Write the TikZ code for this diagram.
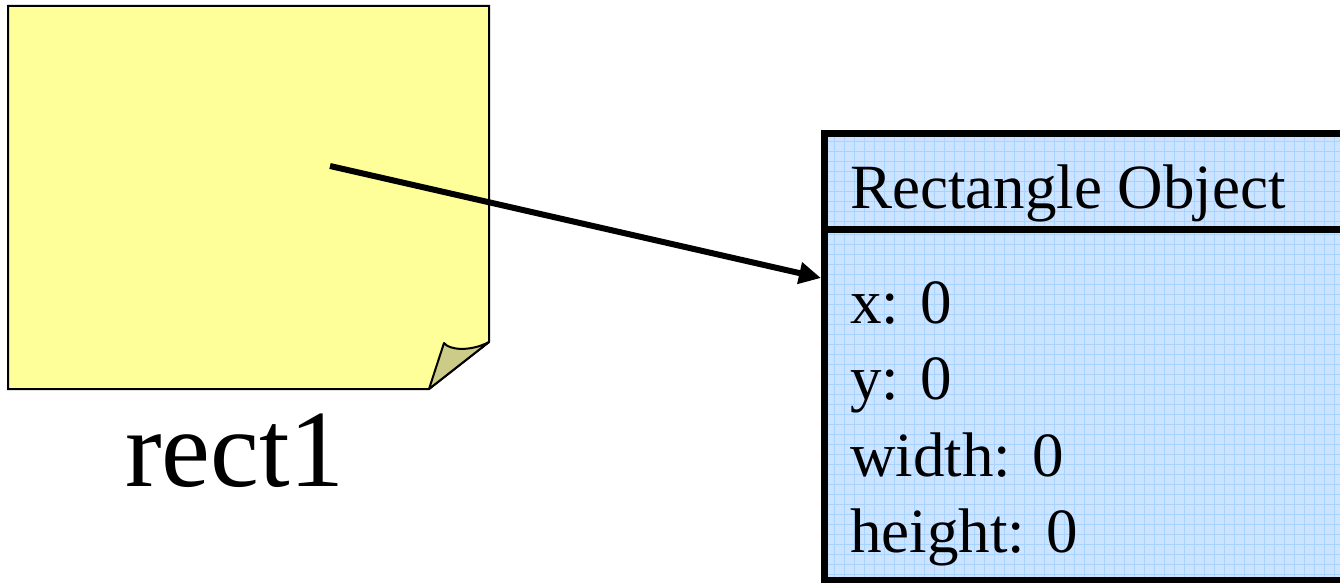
\documentclass[tikz,border=0pt]{standalone}
\usepackage{fontspec}
\setmainfont{Liberation Serif}
\usetikzlibrary{arrows.meta}
\definecolor{notefill}{HTML}{FFFF99}
\definecolor{noteflap}{HTML}{CCCC88}
\definecolor{objfill}{HTML}{CCE4FF}
\definecolor{objgrid}{HTML}{A8D3FF}

\begin{document}
\begin{tikzpicture}[
  x=1pt, y=-1pt,
  note/.style={draw=black,line width=2pt,fill=notefill,line join=miter},
  flap/.style={draw=black,line width=2pt,fill=noteflap,line join=round},
  objbox/.style={draw=black,line width=7pt,fill=objfill,anchor=north west,
                 minimum width=540pt,inner sep=0pt,
                 path picture={\draw[objgrid,line width=0.8pt,step=10pt]
                   (path picture bounding box.south west) grid
                   (path picture bounding box.north east);}},
  field/.style={font=\fontsize{63}{76}\selectfont,anchor=base west,inner sep=0pt},
  varname/.style={font=\fontsize{110}{120}\selectfont,anchor=base,inner sep=0pt},
  ptrarr/.style={-{Triangle[length=22pt,width=21pt]},line width=6pt}]

  \clip (0,0) rectangle (1340,583);

  % sticky note for the variable
  \draw[note] (8,6) -- (489,6) -- (489,342) -- (429,389) -- (8,389) -- cycle;
  \draw[flap] (489,342) .. controls (470,352) and (449,350) .. (444,343) -- (429,389) -- cycle;
  \node[varname] (name) at (235,486) {rect1};
  \coordinate (ptr) at (330,166);

  % the object
  \node[objbox,minimum height=96.5pt] (head) at (821,129.5) {};
  \node[objbox,minimum height=350.5pt] (body) at (821,226) {};
  \node[field] (title) at (850,208) {Rectangle Object};
  \node[field] (fx) at (850,323) {x: 0};
  \node[field] (fy) at (850,399) {y: 0};
  \node[field] (fw) at (850,476) {width: 0};
  \node[field] (fh) at (850,552) {height: 0};

  \draw[ptrarr] (ptr) -- ([yshift=-52pt]body.north west);
\end{tikzpicture}
\end{document}
